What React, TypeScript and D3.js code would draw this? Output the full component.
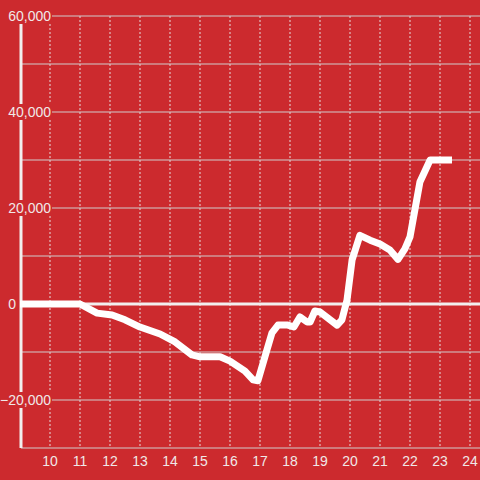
import React from "react";
import * as d3 from "d3";

const hours = [9.0, 11.0, 11.57, 12.07, 12.5, 13.0, 13.67, 14.17, 14.73, 15.0, 15.67, 16.0, 16.5, 16.77, 16.93, 17.23, 17.4, 17.6, 17.93, 18.13, 18.33, 18.57, 18.67, 18.83, 19.0, 19.57, 19.73, 19.9, 20.07, 20.33, 20.67, 21.0, 21.33, 21.6, 21.83, 22.0, 22.33, 22.67, 23.4];
const values = [0, 0, -1900, -2300, -3300, -4800, -6250, -7900, -10600, -11000, -11000, -11900, -14000, -15800, -16000, -9600, -6000, -4400, -4400, -4800, -2700, -3750, -3750, -1460, -1670, -4400, -3300, 800, 9200, 14300, 13300, 12500, 11250, 9300, 11500, 14000, 25400, 30000, 30000];
const xTicks = [10, 11, 12, 13, 14, 15, 16, 17, 18, 19, 20, 21, 22, 23, 24];
const yGrid = [-30000, -20000, -10000, 10000, 20000, 30000, 40000, 50000, 60000];
const yLabels = [60000, 40000, 20000, 0, -20000];

export default function App() {
  const W = 480, H = 480;
  const x = d3.scaleLinear().domain([9, 24]).range([20, 470]);
  const y = d3.scaleLinear().domain([-30000, 60000]).range([448, 16]);
  const line = d3.line<number>().x((_, i) => x(hours[i])).y((d) => y(d)).curve(d3.curveLinear);
  const fmt = d3.format(",");
  const font = "'Liberation Sans', Arial, sans-serif";
  return (
    <svg width={W} height={H} style={{ position: "absolute", left: 0, top: 0 }}>
      <rect width={W} height={H} fill="#cc2a2e" />
      {xTicks.map((t) => (
        <line key={"v" + t} x1={x(t)} x2={x(t)} y1={16} y2={448} stroke="#e6dcdc" strokeWidth={1} strokeDasharray="2,2" />
      ))}
      {yGrid.map((v) => (
        <line key={"h" + v} x1={21} x2={W} y1={y(v)} y2={y(v)} stroke="#d0cccc" strokeWidth={1} />
      ))}
      <line x1={21} x2={W} y1={y(0)} y2={y(0)} stroke="#f2eeee" strokeWidth={3} />
      <line x1={21} x2={21} y1={16} y2={448} stroke="#f2eeee" strokeWidth={3} />
      <path d={line(values) || ""} fill="none" stroke="#ffffff" strokeWidth={7} strokeLinejoin="round" />
      {yLabels.map((v) => (
        <g key={"l" + v}>
          <rect x={v === 0 ? 6 : 4} y={y(v) - 8} width={v === 0 ? 12 : 48} height={16} fill="#cc2a2e" />
          <text x={v === 0 ? 16 : 51} y={y(v) + 5} textAnchor="end" fontFamily={font} fontSize={14} fill="#f0e8e8">
            {fmt(v)}
          </text>
        </g>
      ))}
      {xTicks.map((t) => (
        <text key={"t" + t} x={x(t)} y={466} textAnchor="middle" fontFamily={font} fontSize={14} fill="#f0e8e8">
          {t}
        </text>
      ))}
    </svg>
  );
}
